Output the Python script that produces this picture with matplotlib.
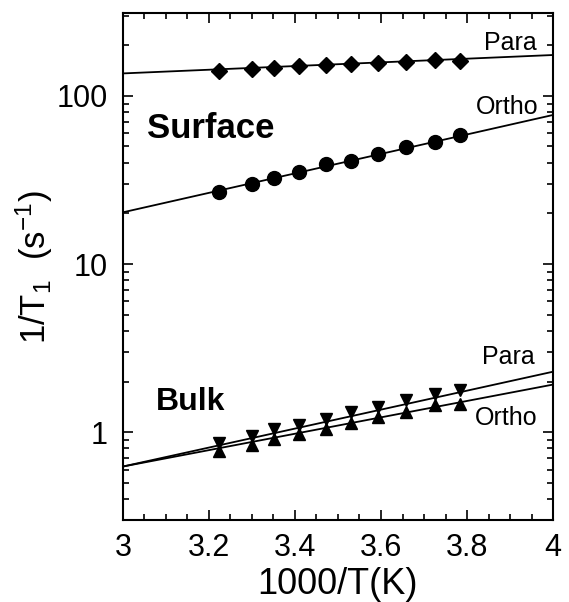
import matplotlib
matplotlib.use("Agg")
import matplotlib.pyplot as plt
import numpy as np
from matplotlib.ticker import MultipleLocator, LogLocator, NullFormatter, FixedLocator, FixedFormatter

plt.rcParams['font.family'] = ['Liberation Sans', 'DejaVu Sans']
plt.rcParams['mathtext.fontset'] = 'custom'
plt.rcParams['mathtext.rm'] = 'Liberation Sans'
plt.rcParams['mathtext.it'] = 'Liberation Sans:italic'

# Data
x = [3.224, 3.299, 3.352, 3.410, 3.472, 3.530, 3.592, 3.658, 3.726, 3.784]
surf_para = [141, 145, 146, 150, 153, 154, 157, 160, 163, 162]
surf_ortho = [26.9, 29.8, 32.6, 35.4, 39.4, 41.2, 45.2, 49.9, 53.5, 58.3]
bulk_para = [0.857, 0.950, 1.038, 1.111, 1.206, 1.31, 1.415, 1.55, 1.683, 1.778]
bulk_ortho = [0.770, 0.837, 0.908, 0.973, 1.038, 1.136, 1.223, 1.32, 1.448, 1.48]

fit_x = [3.0, 4.0]
fit_surf_para = [136, 175]
fit_surf_ortho = [20.3, 77]
fit_bulk_para = [0.625, 2.29]
fit_bulk_ortho = [0.625, 1.92]

xticks = [3, 3.2, 3.4, 3.6, 3.8, 4]
xticklabels = ['3', '3.2', '3.4', '3.6', '3.8', '4']
yticks = [1, 10, 100]
yticklabels = ['1', '10', '100']

fig = plt.figure(figsize=(5.69, 6.02), dpi=100)
ax = fig.add_axes([0.216, 0.136, 0.756, 0.842])
ax.set_yscale('log')
ax.set_xlim(3, 4)
ax.set_ylim(0.3, 310)

lw = 1.3
ax.plot(fit_x, fit_surf_para, color='black', lw=lw)
ax.plot(fit_x, fit_surf_ortho, color='black', lw=lw)
ax.plot(fit_x, fit_bulk_para, color='black', lw=lw)
ax.plot(fit_x, fit_bulk_ortho, color='black', lw=lw)

ax.plot(x, surf_para, 'D', color='black', ms=8, ls='none')
ax.plot(x, surf_ortho, 'o', color='black', ms=10, ls='none')
ax.plot(x, bulk_para, 'v', color='black', ms=9, ls='none')
ax.plot(x, bulk_ortho, '^', color='black', ms=9, ls='none')

ax.xaxis.set_major_locator(FixedLocator(xticks))
ax.xaxis.set_major_formatter(FixedFormatter(xticklabels))
ax.xaxis.set_minor_locator(MultipleLocator(0.05))
ax.yaxis.set_major_locator(FixedLocator(yticks))
ax.yaxis.set_major_formatter(FixedFormatter(yticklabels))
ax.yaxis.set_minor_locator(LogLocator(base=10, subs=np.arange(2, 10), numticks=20))
ax.yaxis.set_minor_formatter(NullFormatter())

ax.tick_params(which='both', direction='in', top=True, right=True, width=1.2)
ax.tick_params(which='major', length=7, labelsize=22)
ax.tick_params(axis='x', which='major', pad=9)
ax.tick_params(axis='y', which='major', pad=11)
ax.tick_params(which='minor', length=4)
for s in ax.spines.values():
    s.set_linewidth(1.5)

ax.set_xlabel('1000/T(K)', fontsize=26, labelpad=3)
ax.set_ylabel(r'1/T$_\mathregular{1}$  (s$^\mathregular{-1}$)', fontsize=25, labelpad=1)

tf = ax.transAxes
ax.text(0.963, 0.941, 'Para', transform=tf, ha='right', va='center', fontsize=18)
ax.text(0.965, 0.815, 'Ortho', transform=tf, ha='right', va='center', fontsize=18)
ax.text(0.056, 0.773, 'Surface', transform=tf, ha='left', va='center', fontsize=25, fontweight='bold')
ax.text(0.077, 0.233, 'Bulk', transform=tf, ha='left', va='center', fontsize=23, fontweight='bold')
ax.text(0.958, 0.321, 'Para', transform=tf, ha='right', va='center', fontsize=18)
ax.text(0.963, 0.201, 'Ortho', transform=tf, ha='right', va='center', fontsize=18)

fig.savefig('out.png', dpi=100)
